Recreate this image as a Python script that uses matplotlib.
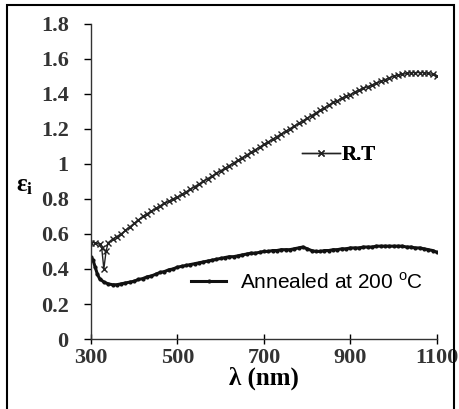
import matplotlib
matplotlib.use('Agg')
import matplotlib.pyplot as plt
from matplotlib.patches import Rectangle

# wavelength (nm) and imaginary dielectric constant
wl_rt = [300, 310, 320, 325, 330, 335, 340, 350, 360, 370, 380, 390, 400, 410, 420, 430,
         440, 450, 460, 470, 480, 490, 500, 510, 520, 530, 540, 550, 560, 570, 580, 590,
         600, 610, 620, 630, 640, 650, 660, 670, 680, 690, 700, 710, 720, 730, 740, 750,
         760, 770, 780, 790, 800, 810, 820, 830, 840, 850, 860, 870, 880, 890, 900, 910,
         920, 930, 940, 950, 960, 970, 980, 990, 1000, 1010, 1020, 1030, 1040, 1050, 1060,
         1070, 1080, 1090, 1100]
eps_rt = [0.55, 0.55, 0.54, 0.52, 0.40, 0.50, 0.55, 0.57, 0.585, 0.60, 0.62, 0.64, 0.66,
          0.68, 0.70, 0.715, 0.73, 0.745, 0.76, 0.775, 0.785, 0.80, 0.81, 0.825, 0.84,
          0.855, 0.87, 0.885, 0.90, 0.915, 0.93, 0.945, 0.96, 0.975, 0.99, 1.005, 1.02,
          1.035, 1.05, 1.065, 1.08, 1.095, 1.11, 1.125, 1.14, 1.155, 1.17, 1.185, 1.20,
          1.215, 1.23, 1.245, 1.26, 1.275, 1.29, 1.305, 1.32, 1.335, 1.35, 1.36, 1.375,
          1.385, 1.395, 1.41, 1.42, 1.43, 1.44, 1.45, 1.46, 1.47, 1.48, 1.49, 1.50, 1.505,
          1.51, 1.515, 1.52, 1.52, 1.52, 1.52, 1.515, 1.51, 1.50]

wl_ann = [300, 305, 310, 315, 320, 330, 340, 350, 360, 370, 380, 390, 400, 410, 420, 430,
          440, 450, 460, 470, 480, 490, 500, 510, 520, 530, 540, 550, 560, 570, 580, 590,
          600, 610, 620, 630, 640, 650, 660, 670, 680, 690, 700, 710, 720, 730, 740, 750,
          760, 770, 780, 790, 800, 810, 820, 830, 840, 850, 860, 870, 880, 890, 900, 910,
          920, 930, 940, 950, 960, 970, 980, 990, 1000, 1010, 1020, 1030, 1040, 1050, 1060,
          1070, 1080, 1090, 1100]
eps_ann = [0.47, 0.45, 0.41, 0.37, 0.345, 0.325, 0.315, 0.31, 0.31, 0.315, 0.32, 0.325,
           0.33, 0.34, 0.345, 0.355, 0.36, 0.37, 0.38, 0.385, 0.395, 0.40, 0.41, 0.415,
           0.42, 0.425, 0.43, 0.435, 0.44, 0.445, 0.45, 0.455, 0.46, 0.465, 0.47, 0.47,
           0.475, 0.48, 0.485, 0.49, 0.49, 0.495, 0.50, 0.50, 0.505, 0.505, 0.51, 0.51,
           0.51, 0.515, 0.52, 0.525, 0.515, 0.505, 0.50, 0.50, 0.505, 0.505, 0.51, 0.51,
           0.515, 0.515, 0.52, 0.52, 0.52, 0.525, 0.525, 0.525, 0.53, 0.53, 0.53, 0.53,
           0.53, 0.53, 0.53, 0.525, 0.525, 0.52, 0.52, 0.515, 0.51, 0.505, 0.495]

xticks = [300, 500, 700, 900, 1100]
yticks = [0, 0.2, 0.4, 0.6, 0.8, 1, 1.2, 1.4, 1.6, 1.8]
ytick_labels = ['0', '0.2', '0.4', '0.6', '0.8', '1', '1.2', '1.4', '1.6', '1.8']

serif = ['Liberation Serif', 'DejaVu Serif']
sans = ['Liberation Sans', 'DejaVu Sans']

fig = plt.figure(figsize=(4.59, 4.09), dpi=100)
ax = fig.add_axes([0.198, 0.171, 0.754, 0.7715])

l_rt, = ax.plot(wl_rt, eps_rt, color='#222222', lw=1.0, marker='x', ms=5, mew=1.0)
l_ann, = ax.plot(wl_ann, eps_ann, color='#111111', lw=2.2, marker='.', ms=4)

ax.set_xlim(300, 1100)
ax.set_ylim(0, 1.8)
ax.set_xticks(xticks)
ax.set_xticklabels([str(t) for t in xticks], family=serif, weight='bold', fontsize=16,
                   color='#333333')
ax.set_yticks(yticks)
ax.set_yticklabels(ytick_labels, family=serif, weight='bold', fontsize=16, color='#333333')
ax.tick_params(axis='y', direction='out', length=5, width=1, pad=11)
ax.tick_params(axis='x', direction='inout', length=7, width=1, pad=3)

for s in ['top', 'right']:
    ax.spines[s].set_visible(False)
for s in ['left', 'bottom']:
    ax.spines[s].set_linewidth(1.0)
    ax.spines[s].set_color('#333333')

ax.set_xlabel('λ (nm)', family=serif, weight='bold', fontsize=18, labelpad=-1)
ax.set_ylabel(r'$\mathregular{\varepsilon_i}$', rotation=0, fontsize=18,
              family=serif, weight='bold')
ax.yaxis.set_label_coords(-0.19, 0.45)

leg1 = fig.legend([l_rt], ['R.T'], loc='center left', bbox_to_anchor=(0.658, 0.621),
                  frameon=False, numpoints=1, handlelength=1.8, handletextpad=0.1,
                  borderpad=0, borderaxespad=0,
                  prop={'family': serif, 'weight': 'bold', 'size': 15})
leg2 = fig.legend([l_ann], [r'Annealed at 200 $^{\mathregular{o}}$C'], loc='center left',
                  bbox_to_anchor=(0.416, 0.31), frameon=False, numpoints=1,
                  handlelength=1.7, handletextpad=0.65, borderpad=0, borderaxespad=0,
                  prop={'family': sans, 'size': 15})
fig.add_artist(leg1)

fig.patches.append(Rectangle((7 / 459, -0.1), 447 / 459, 1.1 - 5 / 409, fill=False,
                             lw=1.5, ec='black', transform=fig.transFigure, figure=fig))

fig.savefig('out.png', dpi=100)
